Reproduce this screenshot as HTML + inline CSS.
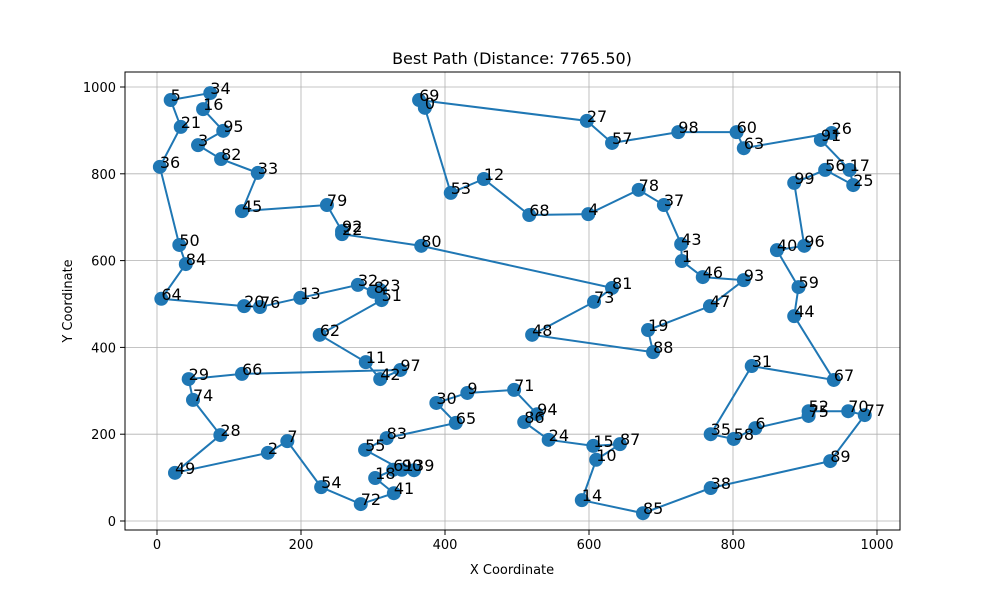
<!DOCTYPE html>
<html><head><meta charset="utf-8"><style>
body{margin:0;background:#fff;font-family:"Liberation Sans","DejaVu Sans",sans-serif}
svg text{font-family:"DejaVu Sans","Liberation Sans",sans-serif}
</style></head><body>
<svg id="chart" width="1000" height="600" viewBox="0 0 1000 600" xmlns="http://www.w3.org/2000/svg">
<rect width="1000" height="600" fill="#fff"/>
<text x="512" y="64" font-size="16" text-anchor="middle">Best Path (Distance: 7765.50)</text>
<text x="512" y="574" font-size="13" text-anchor="middle">X Coordinate</text>
<text x="72" y="301" font-size="13" text-anchor="middle" transform="rotate(-90 72 301)">Y Coordinate</text>
<g id="grid"></g><g id="ticks"></g><g id="series"></g>
<rect x="125" y="72" width="775" height="458" fill="none" stroke="#000" stroke-width="1"/>
</svg>
<script>
const cityIds=[0,1,2,3,4,5,6,7,8,9,10,11,12,13,14,15,16,17,18,19,20,21,22,23,24,25,26,27,28,29,30,31,32,33,34,35,36,37,38,39,40,41,42,43,44,45,46,47,48,49,50,51,52,53,54,55,56,57,58,59,60,61,62,63,64,65,66,67,68,69,70,71,72,73,74,75,76,77,78,79,80,81,82,83,84,85,86,87,88,89,90,91,92,93,94,95,96,97,98,99];
const cityX=[372,729,154,57,599,19,831,181,301,431,610,290,454,199,590,606,64,962,303,682,121,33,257,310,544,967,937,597,88,44,388,826,279,140,74,769,4,704,769,357,861,329,310,728,885,118,758,768,521,25,31,312,905,408,228,289,928,632,801,891,805,328,226,815,6,415,118,940,517,364,960,496,283,607,50,905,143,983,669,236,367,632,89,319,40,675,510,643,689,935,340,922,257,815,528,92,899,338,724,885];
const cityY=[952,599,157,866,707,970,214,184,528,295,141,366,788,514,48,173,949,809,99,440,495,908,661,532,187,774,894,922,198,327,272,357,544,802,986,200,816,728,76,117,624,64,327,638,472,714,562,495,429,111,636,509,253,756,78,164,809,871,189,539,896,118,429,859,512,226,339,325,705,970,253,302,39,505,279,242,493,244,763,728,634,537,834,191,592,18,228,177,389,138,118,878,668,555,246,899,634,348,896,779];
const tourOrder=[0,53,12,68,4,78,37,43,1,46,93,47,19,88,48,73,81,80,22,92,79,45,33,82,3,95,16,34,5,21,36,50,84,64,20,76,13,32,8,23,51,62,11,42,97,66,29,74,28,49,2,7,54,72,41,18,61,39,90,55,83,65,30,9,71,94,86,24,15,87,10,14,85,38,89,77,70,52,75,6,58,35,31,67,44,59,40,96,99,56,25,17,91,26,63,60,98,57,27,69,0];
const xTicks=[0,200,400,600,800,1000];
const yTicks=[0,200,400,600,800,1000];
const NS="http://www.w3.org/2000/svg";
const sx=v=>157+0.72*v, sy=v=>521-0.434*v;
function mk(tag,attrs,parent,txt){const e=document.createElementNS(NS,tag);for(const k in attrs)e.setAttribute(k,attrs[k]);if(txt!==undefined)e.textContent=txt;parent.appendChild(e);return e;}
const grid=document.getElementById('grid'),ticks=document.getElementById('ticks'),series=document.getElementById('series');
xTicks.forEach(t=>{const x=sx(t);
 const g=mk('line',{x1:x,x2:x,y1:72,y2:530,stroke:'#b0b0b0','stroke-width':0.8},grid);
 
 
 mk('line',{x1:x,x2:x,y1:530,y2:535,stroke:'#000'},ticks);
 const l=mk('text',{x:x,y:549,'font-size':13,'text-anchor':'middle'},ticks,String(t));
 
 });
yTicks.forEach(t=>{const y=sy(t);
 const g=mk('line',{x1:125,x2:900,y1:y,y2:y,stroke:'#b0b0b0','stroke-width':0.8},grid);
 
 
 mk('line',{x1:120,x2:125,y1:y,y2:y,stroke:'#000'},ticks);
 const l=mk('text',{x:116,y:y+5,'font-size':13,'text-anchor':'end'},ticks,String(t));
 
 });
const pts=tourOrder.map(i=>sx(cityX[i])+','+sy(cityY[i])).join(' ');
const path=mk('polyline',{points:pts,fill:'none',stroke:'#1f77b4','stroke-width':2},series);


cityIds.forEach((id,i)=>{const cx=sx(cityX[i]),cy=sy(cityY[i]);
 const c=mk('circle',{cx:cx,cy:cy,r:7,fill:'#1f77b4'},series);
 
 });
cityIds.forEach((id,i)=>{const cx=sx(cityX[i]),cy=sy(cityY[i]);
 const t=mk('text',{x:cx,y:cy+1,'font-size':16,fill:'#000'},series,String(id));
 
 });
</script>
</body></html>
